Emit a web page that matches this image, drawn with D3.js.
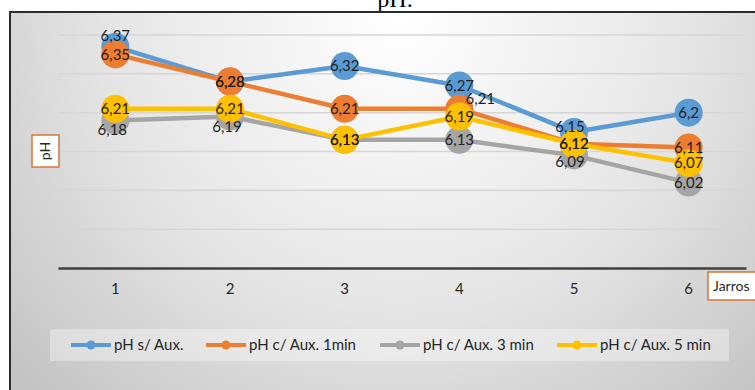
<!DOCTYPE html>
<html>
<head>
<meta charset="utf-8">
<script src="https://cdn.jsdelivr.net/npm/d3@7/dist/d3.min.js"></script>
<style>
  html, body { margin: 0; padding: 0; background: #ffffff; }
  svg { display: block; }
</style>
</head>
<body>
<svg id="chart" width="755" height="390"></svg>
<script>
// Jar test: pH per jar, with and without the auxiliary
const jars = ["1", "2", "3", "4", "5", "6"];
const seriesNames = ["pH s/ Aux.", "pH c/ Aux. 1min", "pH c/ Aux. 3 min", "pH c/ Aux. 5 min"];
const phNoAux = [6.37, 6.28, 6.32, 6.27, 6.15, 6.2];
const phAux1 = [6.35, 6.28, 6.21, 6.21, 6.12, 6.11];
const phAux3 = [6.18, 6.19, 6.13, 6.13, 6.09, 6.02];
const phAux5 = [6.21, 6.21, 6.13, 6.19, 6.12, 6.07];
const yTicks = [5.8, 5.9, 6.0, 6.1, 6.2, 6.3, 6.4];
const titleText = "pH.";
const yTitle = "pH";
const xTitle = "Jarros";

const colors = ["#5b9bd5", "#ed7d31", "#a5a5a5", "#ffc000"];
const seriesValues = [phNoAux, phAux1, phAux3, phAux5];

// manual nudges for labels that would otherwise collide: [dx, dy]
const labelNudge = {
  "0-0": [0, -11], "0-4": [-4, -5],
  "1-3": [21, -10],
  "2-0": [-3, 9], "2-1": [-3, 10], "2-4": [-4, 6]
};

const svg = d3.select("#chart");
const defs = svg.append("defs");
const grad = defs.append("radialGradient")
  .attr("id", "bg").attr("gradientUnits", "userSpaceOnUse")
  .attr("cx", 400).attr("cy", 20).attr("r", 520);
grad.append("stop").attr("offset", "0").attr("stop-color", "#ffffff");
grad.append("stop").attr("offset", "0.55").attr("stop-color", "#e6e6e6");
grad.append("stop").attr("offset", "1").attr("stop-color", "#c4c4c4");

// title of the figure, clipped by the top of the page
svg.append("text")
  .attr("x", 395).attr("y", 7)
  .attr("text-anchor", "middle")
  .attr("font-family", "'Liberation Serif', 'DejaVu Serif', serif")
  .attr("font-size", 24).attr("fill", "#000")
  .text(titleText);

// chart frame
svg.append("rect")
  .attr("x", 10).attr("y", 12).attr("width", 760).attr("height", 400)
  .attr("fill", "url(#bg)").attr("stroke", "#2b2b2b").attr("stroke-width", 2);

const x = d3.scaleBand().domain(jars).range([58, 746]);
const y = d3.scaleLinear().domain([5.8, 6.4]).range([268, 35]);
const cx = j => x(j) + x.bandwidth() / 2;

// horizontal gridlines
svg.append("g").selectAll("line")
  .data(yTicks.filter(t => t > 5.8))
  .join("line")
  .attr("x1", 58).attr("x2", 746)
  .attr("y1", d => y(d)).attr("y2", d => y(d))
  .attr("stroke", "#d6d6d6").attr("stroke-width", 1.5);

// category axis
const xAxis = svg.append("g")
  .attr("transform", `translate(0,${y(5.8)})`)
  .call(d3.axisBottom(x).tickSize(0).tickPadding(15));
xAxis.select(".domain").attr("stroke", "#3f3f3f").attr("stroke-width", 2.5);
xAxis.selectAll("text")
  .attr("font-family", "Lato, 'Open Sans', sans-serif")
  .attr("font-size", 15).attr("fill", "#262626");

// series lines and markers
const line = d3.line().x((d, i) => cx(jars[i])).y(d => y(d));
seriesValues.forEach((vals, s) => {
  const g = svg.append("g");
  g.append("path").datum(vals)
    .attr("d", line).attr("fill", "none")
    .attr("stroke", colors[s]).attr("stroke-width", 4.5)
    .attr("stroke-linejoin", "round").attr("stroke-linecap", "round");
  g.selectAll("circle").data(vals).join("circle")
    .attr("cx", (d, i) => cx(jars[i])).attr("cy", d => y(d))
    .attr("r", 14).attr("fill", colors[s]);
});

// data labels on top of all series
const fmt = v => String(v).replace(".", ",");
seriesValues.forEach((vals, s) => {
  svg.append("g").selectAll("text").data(vals).join("text")
    .attr("x", (d, i) => cx(jars[i]) + (labelNudge[s + "-" + i] || [0, 0])[0])
    .attr("y", (d, i) => y(d) + (labelNudge[s + "-" + i] || [0, 0])[1])
    .attr("dy", "0.35em")
    .attr("text-anchor", "middle")
    .attr("font-family", "Lato, 'Open Sans', sans-serif")
    .attr("font-size", 15).attr("fill", "#1e1e1e")
    .text(fmt);
});

// axis titles in outlined boxes
svg.append("rect")
  .attr("x", 32).attr("y", 135).attr("width", 27).attr("height", 32)
  .attr("fill", "#ffffff").attr("stroke", "#d4773b").attr("stroke-width", 1.5);
svg.append("text")
  .attr("transform", "translate(45.5,151) rotate(-90)")
  .attr("text-anchor", "middle").attr("dy", "0.35em")
  .attr("font-family", "Lato, 'Open Sans', sans-serif")
  .attr("font-size", 14).attr("fill", "#262626")
  .text(yTitle);

svg.append("rect")
  .attr("x", 708).attr("y", 272).attr("width", 60).attr("height", 28)
  .attr("fill", "#ffffff").attr("stroke", "#d4773b").attr("stroke-width", 1.5);
svg.append("text")
  .attr("x", 713).attr("y", 286).attr("dy", "0.35em")
  .attr("font-family", "Lato, 'Open Sans', sans-serif")
  .attr("font-size", 14).attr("fill", "#262626")
  .text(xTitle);

// legend
svg.append("rect")
  .attr("x", 50).attr("y", 329).attr("width", 679).attr("height", 32)
  .attr("fill", "#ffffff").attr("fill-opacity", 0.35);
const legendX = [71, 206, 380, 557];
const legend = svg.append("g").selectAll("g").data(seriesNames).join("g")
  .attr("transform", (d, i) => `translate(${legendX[i]},345)`);
legend.append("line")
  .attr("x1", 0).attr("x2", 40)
  .attr("stroke", (d, i) => colors[i]).attr("stroke-width", 4);
legend.append("circle")
  .attr("cx", 20).attr("r", 4.5).attr("fill", (d, i) => colors[i]);
legend.append("text")
  .attr("x", 43).attr("dy", "0.35em")
  .attr("font-family", "Lato, 'Open Sans', sans-serif")
  .attr("font-size", 15).attr("fill", "#262626")
  .text(d => d);
</script>
</body>
</html>
